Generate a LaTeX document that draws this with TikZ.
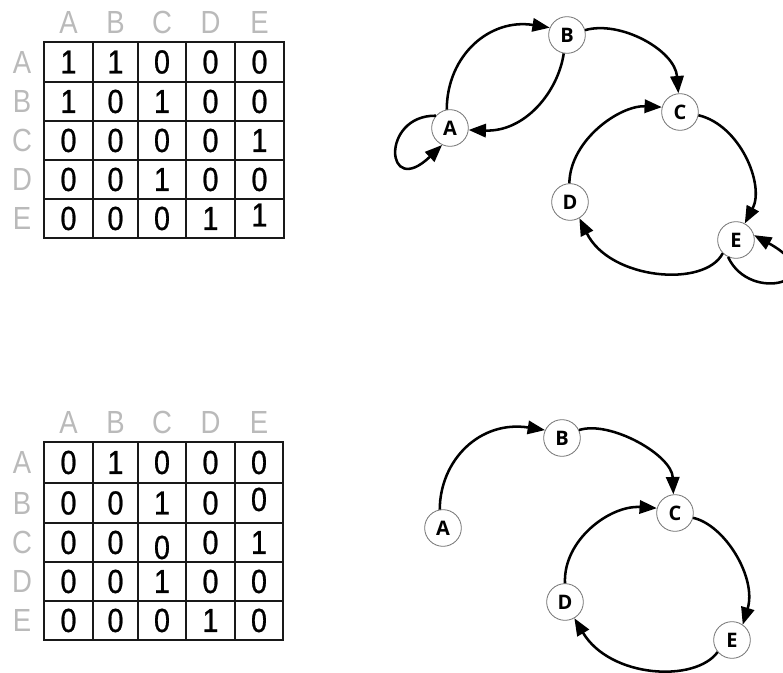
\documentclass[tikz,border=0pt]{standalone}
\usepackage{fontspec}
\setmainfont{Liberation Sans}
\newfontfamily\cellfont[FakeStretch=0.86,FakeBold=0.8]{Liberation Sans}
\newfontfamily\headfont[FakeStretch=0.86]{Liberation Sans}
\newfontfamily\statefont{Open Sans}
\usetikzlibrary{arrows.meta}
\tikzset{
  state/.style={circle, draw=black!55, line width=0.6pt, fill=white, minimum size=27.5pt, inner sep=0pt, font=\statefont\bfseries\fontsize{15}{17}\selectfont},
  edge/.style={line width=1.9pt, -{Triangle[length=13pt,width=10pt]}},
  cell/.style={inner sep=0pt, font=\cellfont\fontsize{25}{28}\selectfont},
  head/.style={inner sep=0pt, text=black!27, font=\headfont\fontsize{24}{28}\selectfont},
  gridline/.style={line width=1.6pt, black!90}
}
\begin{document}
\begin{tikzpicture}[x=0.75pt,y=0.75pt,yscale=-1,xscale=1]
        \useasboundingbox (0,0) rectangle (783,673);

        %Table: top matrix
        \draw [gridline] (44,42) rectangle (284,238);
        \draw [gridline] (93,42) -- (93,238) (138,42) -- (138,238) (186,42) -- (186,238) (235,42) -- (235,238);
        \draw [gridline] (44,82) -- (284,82) (44,121) -- (284,121) (44,160) -- (284,160) (44,199) -- (284,199);
        % Text Node: headers
        \foreach \x/\c in {68.5/A,115.5/B,162/C,210.5/D,259.5/E}
          \node [head] (thc\c) at (\x,22) {\c};
        \foreach \y/\c in {62/A,101.5/B,140.5/C,179.5/D,218.5/E}
          \node [head] (thr\c) at (22,\y) {\c};
        % Text Node: entries
        \foreach \x/\v/\c in {68.5/1/A,115.5/1/B,162/0/C,210.5/0/D,259.5/0/E}
          \node [cell] (tA\c) at (\x,62) {\v};
        \foreach \x/\v/\c in {68.5/1/A,115.5/0/B,162/1/C,210.5/0/D,259.5/0/E}
          \node [cell] (tB\c) at (\x,101.5) {\v};
        \foreach \x/\v/\c in {68.5/0/A,115.5/0/B,162/0/C,210.5/0/D,259.5/1/E}
          \node [cell] (tC\c) at (\x,140.5) {\v};
        \foreach \x/\v/\c in {68.5/0/A,115.5/0/B,162/1/C,210.5/0/D,259.5/0/E}
          \node [cell] (tD\c) at (\x,179.5) {\v};
        \foreach \x/\v/\c in {68.5/0/A,115.5/0/B,162/0/C,210.5/1/D}
          \node [cell] (tE\c) at (\x,218.5) {\v};
        \node [cell] (tEE) at (259.5,215) {1};

        %Table: bottom matrix
        \draw [gridline] (44,442) rectangle (283,640);
        \draw [gridline] (93,442) -- (93,640) (138,442) -- (138,640) (186,442) -- (186,640) (235,442) -- (235,640);
        \draw [gridline] (44,483) -- (283,483) (44,523) -- (283,523) (44,562) -- (283,562) (44,601) -- (283,601);
        % Text Node: headers
        \foreach \x/\c in {68.5/A,115.5/B,162/C,210.5/D,259/E}
          \node [head] (bhc\c) at (\x,422) {\c};
        \foreach \y/\c in {462.5/A,503/B,542.5/C,581.5/D,620.5/E}
          \node [head] (bhr\c) at (22,\y) {\c};
        % Text Node: entries
        \foreach \x/\v/\c in {68.5/0/A,115.5/1/B,162/0/C,210.5/0/D,259/0/E}
          \node [cell] (bA\c) at (\x,462.5) {\v};
        \foreach \x/\v/\c in {68.5/0/A,115.5/0/B,162/1/C,210.5/0/D}
          \node [cell] (bB\c) at (\x,503) {\v};
        \node [cell] (bBE) at (259,499.5) {0};
        \foreach \x/\v/\c in {68.5/0/A,115.5/0/B,210.5/0/D,259/1/E}
          \node [cell] (bC\c) at (\x,542.5) {\v};
        \node [cell] (bCC) at (162,547.5) {0};
        \foreach \x/\v/\c in {68.5/0/A,115.5/0/B,162/1/C,210.5/0/D,259/0/E}
          \node [cell] (bD\c) at (\x,581.5) {\v};
        \foreach \x/\v/\c in {68.5/0/A,115.5/0/B,162/0/C,210.5/1/D,259/0/E}
          \node [cell] (bE\c) at (\x,620.5) {\v};

        %Shape: Circles (top graph)
        \node [state] (gA) at (450,128) {A};
        \node [state] (gB) at (567,35) {B};
        \node [state] (gC) at (680,112) {C};
        \node [state] (gD) at (570,202) {D};
        \node [state] (gE) at (736,240) {E};
        %Curve Lines
        \draw [edge] (gA.100) .. controls (447,55) and (490,18) .. (gB.157);
        \draw [edge] (gB.260) .. controls (558,92) and (525,132) .. (gA.354);
        \draw [edge] (gA.139) .. controls (380,115) and (385,200) .. (gA.245);
        \draw [edge] (gB.15) .. controls (620,20) and (675,50) .. (gC.95);
        \draw [edge] (gC.350) .. controls (740,125) and (765,185) .. (gE.62);
        \draw [edge] (gE.225) .. controls (705,288) and (610,280) .. (gD.300);
        \draw [edge] (gD.92) .. controls (570,140) and (620,105) .. (gC.165);
        \draw [edge] (gE.245) .. controls (750,305) and (835,280) .. (gE.15);

        %Shape: Circles (bottom graph)
        \node [state] (hA) at (443,528) {A};
        \node [state] (hB) at (562,438) {B};
        \node [state] (hC) at (675,513) {C};
        \node [state] (hD) at (565,602) {D};
        \node [state] (hE) at (732,640) {E};
        %Curve Lines
        \draw [edge] (hA.100) .. controls (440,460) and (480,420) .. (hB.155);
        \draw [edge] (hB.25) .. controls (610,420) and (672,455) .. (hC.95);
        \draw [edge] (hC.345) .. controls (725,525) and (757,578) .. (hE.55);
        \draw [edge] (hE.220) .. controls (695,683) and (610,678) .. (hD.300);
        \draw [edge] (hD.90) .. controls (563,540) and (610,505) .. (hC.165);

\end{tikzpicture}
\end{document}
